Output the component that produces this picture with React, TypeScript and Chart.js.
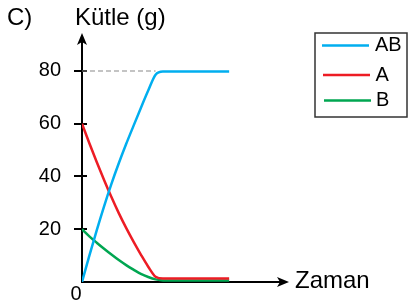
import { useEffect, useRef } from 'react';
import { Chart, registerables } from 'chart.js';

Chart.register(...registerables);

// ---- data ----
const times = [0, 0.5, 1, 1.5, 2, 2.5, 3, 3.5, 4, 4.5, 5, 5.5, 10];
const abValues = [0, 10, 19.6, 28.7, 37.2, 45, 52.3, 59.2, 66, 72.6, 78.6, 79.8, 79.8];
const aValues = [60, 52.6, 45.5, 38.7, 32.2, 26.1, 20.5, 15.3, 10.4, 5.8, 2.0, 1.3, 1.3];
const bValues = [20, 17.3, 14.9, 12.6, 10.4, 8.3, 6.4, 4.7, 3.1, 1.9, 1.0, 0.6, 0.6];
const seriesLabels = ['AB', 'A', 'B'];
const seriesColors = ['#00AEEF', '#ED1C24', '#00A651'];
const yTicks = [20, 40, 60, 80];
const refLineTimes = [0, 5.0];
const refLineValue = 80;
const panelLabel = 'C)';
const yAxisTitle = 'Kütle (g)';
const xAxisTitle = 'Zaman';
const originLabel = '0';

const FONT = '"Liberation Sans", Arial, sans-serif';

const decorPlugin = {
  id: 'decor',
  beforeDatasetsDraw(chart: any) {
    const { ctx, chartArea } = chart;
    const y = chart.scales.y;
    const left = chartArea.left;
    const bottom = chartArea.bottom;
    ctx.save();
    ctx.strokeStyle = '#000';
    ctx.fillStyle = '#000';
    ctx.lineWidth = 2;
    // y axis
    ctx.beginPath();
    ctx.moveTo(left, bottom + 1);
    ctx.lineTo(left, chartArea.top + 8);
    ctx.stroke();
    // up arrow
    ctx.beginPath();
    ctx.moveTo(left, chartArea.top);
    ctx.lineTo(left + 5, chartArea.top + 12);
    ctx.lineTo(left, chartArea.top + 9);
    ctx.lineTo(left - 5, chartArea.top + 12);
    ctx.closePath();
    ctx.fill();
    // x axis
    ctx.beginPath();
    ctx.moveTo(left - 1, bottom);
    ctx.lineTo(chartArea.right - 8, bottom);
    ctx.stroke();
    ctx.beginPath();
    ctx.moveTo(chartArea.right + 1, bottom);
    ctx.lineTo(chartArea.right - 11, bottom - 5);
    ctx.lineTo(chartArea.right - 8, bottom);
    ctx.lineTo(chartArea.right - 11, bottom + 5);
    ctx.closePath();
    ctx.fill();
    // tick marks
    for (const v of yTicks) {
      const py = Math.round(y.getPixelForValue(v));
      ctx.beginPath();
      ctx.moveTo(left - 8, py);
      ctx.lineTo(left + 5, py);
      ctx.stroke();
    }
    ctx.restore();
  },
  afterDraw(chart: any) {
    const { ctx, chartArea } = chart;
    const x = chart.scales.x;
    const y = chart.scales.y;
    ctx.save();
    ctx.fillStyle = '#000';
    ctx.textBaseline = 'alphabetic';
    ctx.font = `24px ${FONT}`;
    ctx.textAlign = 'left';
    ctx.fillText(panelLabel, 7, 25);
    ctx.fillText(yAxisTitle, chartArea.left - 7, 25);
    ctx.fillText(xAxisTitle, chartArea.right + 7, 288);
    ctx.font = `20px ${FONT}`;
    ctx.textAlign = 'center';
    ctx.fillText(originLabel, x.getPixelForValue(0) - 6, y.getPixelForValue(0) + 18);

    // legend
    const bx = 315, by = 33, bw = 92, bh = 84;
    ctx.strokeStyle = '#333';
    ctx.lineWidth = 1.5;
    ctx.strokeRect(bx, by, bw, bh);
    const rows = [45.5, 75, 100.5];
    ctx.textAlign = 'left';
    ctx.textBaseline = 'middle';
    ctx.font = `20px ${FONT}`;
    chart.data.datasets
      .filter((d: any) => d.inLegend)
      .forEach((d: any, i: number) => {
        const ry = rows[i];
        ctx.strokeStyle = d.borderColor;
        ctx.lineWidth = 2.5;
        ctx.beginPath();
        ctx.moveTo(322 + i, ry);
        ctx.lineTo(369 + i, ry);
        ctx.stroke();
        ctx.fillStyle = '#000';
        ctx.fillText(d.label, 375 + i * 0.5, ry);
      });
    ctx.restore();
  },
};

export default function App() {
  const ref = useRef<HTMLCanvasElement | null>(null);
  useEffect(() => {
    if (!ref.current) return;
    const mk = (vals: number[]) => times.map((t, i) => ({ x: t, y: vals[i] }));
    const series = [abValues, aValues, bValues];
    const datasets: any[] = series.map((vals, i) => ({
      label: seriesLabels[i],
      data: mk(vals),
      borderColor: seriesColors[i],
      borderWidth: 2.5,
      pointRadius: 0,
      fill: false,
      cubicInterpolationMode: 'monotone',
      inLegend: true,
    }));
    datasets.push({
      label: 'ref',
      data: refLineTimes.map((t) => ({ x: t, y: refLineValue })),
      borderColor: '#8a8a8a',
      borderWidth: 1.2,
      borderDash: [5, 3],
      pointRadius: 0,
      fill: false,
      inLegend: false,
    });
    const chart = new Chart(ref.current, {
      type: 'line',
      data: { datasets },
      options: {
        responsive: false,
        devicePixelRatio: 1,
        animation: false,
        layout: { padding: { left: 0, top: 33, right: 120, bottom: 22 } },
        plugins: { legend: { display: false }, tooltip: { enabled: false } },
        scales: {
          x: { type: 'linear', min: 0, max: 14, display: false },
          y: {
            type: 'linear',
            min: 0,
            max: 94.4,
            afterBuildTicks: (s: any) => {
              s.ticks = yTicks.map((v) => ({ value: v }));
            },
            afterFit: (s: any) => {
              s.width = 82;
              s.paddingTop = 0;
              s.paddingBottom = 0;
            },
            grid: { display: false },
            border: { display: false },
            ticks: {
              color: '#000',
              padding: 13,
              font: { size: 20, family: FONT },
            },
          },
        },
      },
      plugins: [decorPlugin],
    } as any);
    return () => chart.destroy();
  }, []);
  return (
    <div style={{ position: 'absolute', left: 0, top: 0, width: 408, height: 304, background: '#fff' }}>
      <canvas ref={ref} width={408} height={304} style={{ display: 'block' }} />
    </div>
  );
}
